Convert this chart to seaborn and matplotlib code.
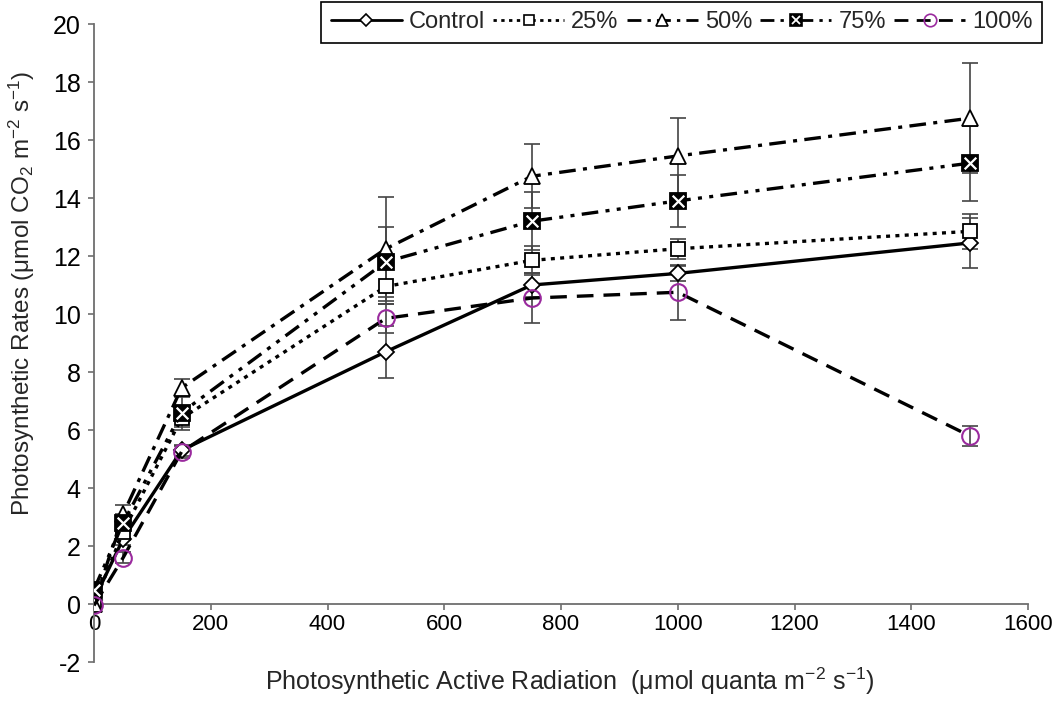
import numpy as np
import pandas as pd
import matplotlib
matplotlib.use("Agg")
import matplotlib.pyplot as plt
import seaborn as sns
from matplotlib.lines import Line2D
from matplotlib.legend_handler import HandlerTuple

# ---------------- data ----------------
par = [0, 50, 150, 500, 750, 1000, 1500]
series_names = ["Control", "25%", "50%", "75%", "100%"]

control = [0.15, 2.25, 5.3, 8.7, 11.0, 11.4, 12.45]
control_err = [0.1, 0.2, 0.2, 0.9, 0.4, 0.25, 0.85]

p25 = [0.0, 2.5, 6.4, 10.95, 11.85, 12.25, 12.85]
p25_err = [0.1, 0.3, 0.3, 0.6, 0.5, 0.35, 0.6]

p50 = [0.0, 3.1, 7.45, 12.25, 14.75, 15.45, 16.75]
p50_err = [0.1, 0.3, 0.3, 1.8, 1.1, 1.3, 1.9]

p75 = [0.5, 2.8, 6.6, 11.8, 13.2, 13.9, 15.2]
p75_err = [0.1, 0.3, 0.6, 1.2, 1.0, 0.9, 1.3]

p100 = [-0.05, 1.6, 5.25, 9.85, 10.55, 10.75, 5.8]
p100_err = [0.1, 0.2, 0.2, 0.5, 0.85, 0.95, 0.35]

x_ticks = [0, 200, 400, 600, 800, 1000, 1200, 1400, 1600]
y_ticks = [-2, 0, 2, 4, 6, 8, 10, 12, 14, 16, 18, 20]

# ---------------- style ----------------
sns.set_theme(style="white")
plt.rcParams["font.family"] = ["Liberation Sans", "DejaVu Sans"]
plt.rcParams["mathtext.default"] = "regular"

purple = "#9a2a9e"
axis_gray = "#6e6e6e"
err_gray = "#444444"

W, H = 1062, 702
left_px, right_px, top_px, bottom_px = 94, 1028, 24, 662
fig = plt.figure(figsize=(W / 100, H / 100), dpi=100)
ax = fig.add_axes([left_px / W, 1 - bottom_px / H, (right_px - left_px) / W, (bottom_px - top_px) / H])
ax_w, ax_h = right_px - left_px, bottom_px - top_px

values = [control, p25, p50, p75, p100]
errors = [control_err, p25_err, p50_err, p75_err, p100_err]
dashes = [(None, None), (1.2, 1.6), (5, 2.2, 1.2, 2.2), (5, 2.2, 1.2, 2.2, 1.2, 2.2), (5, 3)]
markers = ["D", "s", "^", "s", "o"]
msizes = [8, 10, 11, 12, 12]
mfcs = ["white", "white", "white", "black", "none"]
mecs = ["black", "black", "black", "black", purple]

df = pd.DataFrame({
    "PAR": np.tile(par, len(series_names)),
    "rate": np.concatenate(values),
    "err": np.concatenate(errors),
    "treatment": np.repeat(series_names, len(par)),
})

# error bars first (behind)
for name in series_names:
    sub = df[df.treatment == name]
    ax.errorbar(sub.PAR, sub.rate, yerr=sub.err, fmt="none", ecolor=err_gray,
                elinewidth=1.2, capsize=6, capthick=1.2, zorder=2)

for i, name in enumerate(series_names):
    sub = df[df.treatment == name]
    line_kw = dict(color="black", linewidth=2.4, marker=markers[i],
                   markersize=msizes[i], markerfacecolor=mfcs[i],
                   markeredgecolor=mecs[i], markeredgewidth=1.3 if i != 4 else 1.5,
                   zorder=3 + i, legend=False, ax=ax)
    if dashes[i][0] is None:
        sns.lineplot(data=sub, x="PAR", y="rate", linestyle="-", **line_kw)
    else:
        sns.lineplot(data=sub, x="PAR", y="rate", dashes=dashes[i], **line_kw)

# white X on the filled 75% squares
sub75 = df[df.treatment == "75%"]
sns.scatterplot(data=sub75, x="PAR", y="rate", marker="x", s=70, color="white",
                linewidth=1.6, zorder=10, ax=ax, legend=False)

# ---------------- axes ----------------
ax.set_xlim(0, 1600)
ax.set_ylim(-2, 20)
ax.spines["left"].set_position(("data", 0))
ax.spines["bottom"].set_position(("data", 0))
for s in ["top", "right"]:
    ax.spines[s].set_visible(False)
for s in ["left", "bottom"]:
    ax.spines[s].set_color(axis_gray)
    ax.spines[s].set_linewidth(1.3)
    ax.spines[s].set_zorder(1)

ax.set_xticks(x_ticks)
ax.set_yticks(y_ticks)
ax.set_yticklabels([str(v) for v in y_ticks], fontsize=18)
ax.set_xticklabels([str(v) for v in x_ticks], fontsize=16)
ax.tick_params(axis="both", direction="out", length=4.5, width=1.2, color=axis_gray,
               colors="black", bottom=True, left=True)
ax.tick_params(axis="x", pad=3)
ax.tick_params(axis="y", pad=5)

ax.set_xlabel("Photosynthetic Active Radiation  (\u03bcmol quanta m$^{-2}$ s$^{-1}$)",
              fontsize=18)
ax.xaxis.set_label_coords((570 - left_px) / ax_w, (bottom_px - 666) / ax_h)
ax.set_ylabel("Photosynthetic Rates (\u03bcmol CO$_2$ m$^{-2}$ s$^{-1}$)", fontsize=17.5)
ax.yaxis.set_label_coords((37 - left_px) / ax_w, (bottom_px - 293) / ax_h)

# ---------------- legend ----------------
handles = []
for i, name in enumerate(series_names):
    ls = "-" if dashes[i][0] is None else (0, dashes[i])
    h = Line2D([], [], color="black", linewidth=2, linestyle=ls, marker=markers[i],
               markersize=msizes[i] * 0.75, markerfacecolor=mfcs[i],
               markeredgecolor=mecs[i], markeredgewidth=1.2)
    if name == "75%":
        hx = Line2D([], [], linestyle="none", marker="x", color="white",
                    markersize=6, markeredgewidth=1.3)
        h = (h, hx)
    handles.append(h)

leg = ax.legend(handles, series_names, ncol=5, loc="upper right",
                bbox_to_anchor=(1042 / W, 1 - 2 / H), bbox_transform=fig.transFigure,
                frameon=True, fancybox=False, edgecolor="black", framealpha=1,
                prop={"size": 17}, handlelength=3.0,
                handletextpad=0.3, columnspacing=0.35, borderpad=0.4,
                borderaxespad=0,
                handler_map={tuple: HandlerTuple(ndivide=1, pad=0)})
leg.get_frame().set_linewidth(1.2)

fig.savefig("out.png", dpi=100)
